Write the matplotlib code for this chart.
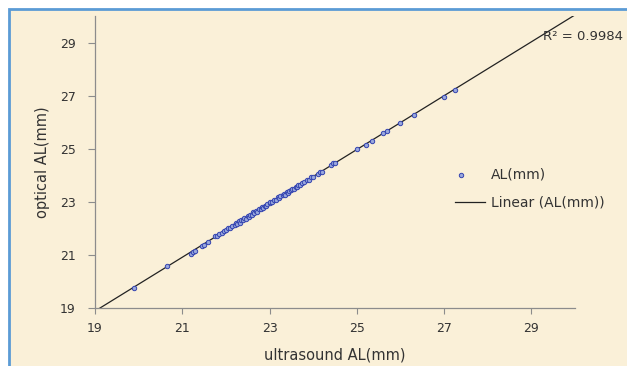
import numpy as np
import matplotlib.pyplot as plt
from matplotlib.patches import Rectangle
from matplotlib.legend_handler import HandlerPathCollection

# ultrasound vs optical axial length (mm)
ultrasound_al = [19.90, 20.65, 21.20, 21.25, 21.30, 21.45, 21.50, 21.60, 21.75, 21.80,
                 21.85, 21.90, 21.95, 22.00, 22.05, 22.10, 22.15, 22.20, 22.22, 22.25,
                 22.30, 22.32, 22.35, 22.40, 22.42, 22.45, 22.50, 22.52, 22.55, 22.60,
                 22.62, 22.65, 22.70, 22.72, 22.75, 22.80, 22.82, 22.85, 22.90, 22.92,
                 22.95, 23.00, 23.02, 23.05, 23.10, 23.15, 23.20, 23.22, 23.25, 23.30,
                 23.32, 23.35, 23.40, 23.42, 23.45, 23.50, 23.52, 23.55, 23.60, 23.62,
                 23.65, 23.70, 23.75, 23.80, 23.85, 23.90, 23.95, 24.00, 24.10, 24.15,
                 24.20, 24.40, 24.45, 24.50, 25.00, 25.20, 25.35, 25.60, 25.70, 26.00,
                 26.30, 27.00, 27.25]
optical_al = [19.75, 20.57, 21.05, 21.10, 21.15, 21.35, 21.38, 21.48, 21.70, 21.72,
              21.80, 21.82, 21.90, 21.93, 22.00, 22.02, 22.10, 22.12, 22.20, 22.18,
              22.27, 22.22, 22.30, 22.33, 22.40, 22.36, 22.47, 22.42, 22.50, 22.52,
              22.60, 22.57, 22.66, 22.62, 22.72, 22.73, 22.80, 22.77, 22.86, 22.83,
              22.92, 22.95, 23.00, 22.98, 23.07, 23.08, 23.17, 23.13, 23.22, 23.24,
              23.30, 23.27, 23.37, 23.34, 23.42, 23.44, 23.50, 23.47, 23.57, 23.54,
              23.62, 23.64, 23.72, 23.73, 23.82, 23.84, 23.92, 23.95, 24.06, 24.12,
              24.14, 24.38, 24.45, 24.48, 25.00, 25.15, 25.30, 25.58, 25.66, 25.97,
              26.27, 26.95, 27.22]
ticks = [19, 21, 23, 25, 27, 29]


class LeftMarker(HandlerPathCollection):
    # excel puts the legend marker near the left of the handle box
    def get_xdata(self, legend, xdescent, ydescent, width, height, fontsize):
        return [-xdescent, -xdescent + width], [-xdescent + 0.22 * width]


bg = '#faf0d8'
txt = '#333333'
fig = plt.figure(figsize=(6.27, 3.66), dpi=100)
fig.patch.set_facecolor('white')
# cream panel with the blue frame on top/left
fig.patches.append(Rectangle((9 / 627, -0.2), 1.1, 1.2 - 9 / 366, transform=fig.transFigure,
                             facecolor=bg, edgecolor='#5b9bd5', linewidth=2, zorder=-1))

ax = fig.add_axes([95 / 627, 1 - 308 / 366, 480 / 627, 292 / 366])
ax.set_facecolor('none')
ax.set_zorder(1)

x = np.array(ultrasound_al)
y = np.array(optical_al)
slope, icpt = np.polyfit(x, y, 1)
xl = np.array([19, 30])
ax.plot(xl, slope * xl + icpt, color='#222222', lw=0.9, label='Linear (AL(mm))', zorder=2)
sc = ax.scatter(x, y, s=10, facecolor='#9aa8dc', edgecolor='#3444b0', linewidth=0.7,
                label='AL(mm)', zorder=3)

ax.set_xlim(19, 30)
ax.set_ylim(19, 30)
ax.set_xticks(ticks)
ax.set_yticks(ticks)
for s in ['top', 'right']:
    ax.spines[s].set_visible(False)
for s in ['left', 'bottom']:
    ax.spines[s].set_color('#8c8c8c')
    ax.spines[s].set_linewidth(0.9)
ax.tick_params(direction='out', color='#8c8c8c', labelsize=9, labelcolor=txt)
ax.tick_params(axis='x', length=4, pad=6)
ax.tick_params(axis='y', length=5, pad=9)
ax.set_xlabel('ultrasound AL(mm)', fontsize=10.5, color=txt, labelpad=9)
ax.set_ylabel('optical AL(mm)', fontsize=10.5, color=txt, labelpad=7)

ax.text(0.933, 0.93, 'R² = 0.9984', transform=ax.transAxes, fontsize=9.5,
        color=txt, va='center', ha='left', clip_on=False)

h, l = ax.get_legend_handles_labels()
ax.legend(h[::-1], l[::-1], loc='upper left', bbox_to_anchor=(442 / 627, 1 - 155 / 366),
          bbox_transform=fig.transFigure, frameon=False, fontsize=10, labelspacing=1.0,
          handlelength=2.2, handletextpad=0.4, labelcolor=txt,
          handler_map={sc: LeftMarker()})

fig.savefig('out.png', dpi=100, facecolor=fig.get_facecolor())
